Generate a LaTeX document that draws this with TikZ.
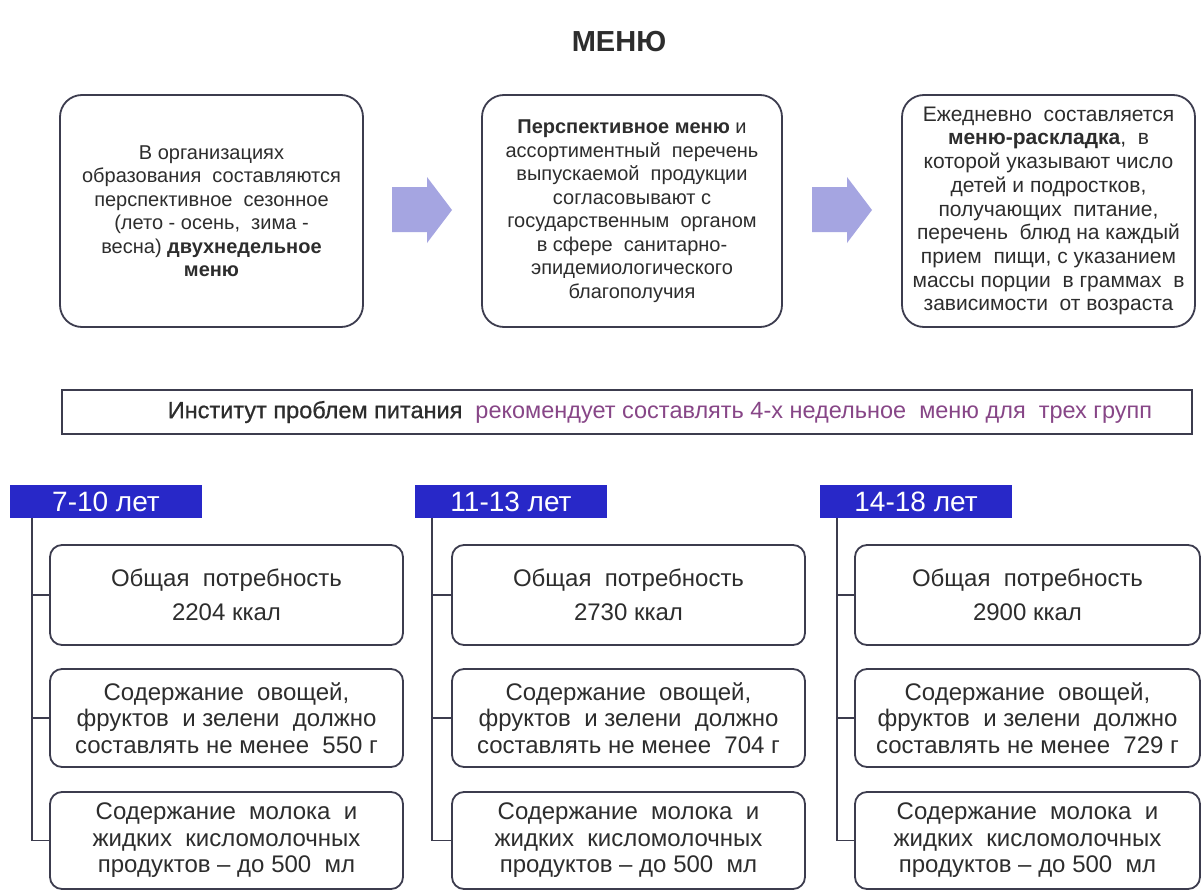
\documentclass[tikz,border=0pt]{standalone}
\usepackage{fontspec}
\setmainfont{Liberation Sans}
\definecolor{edge}{RGB}{60,60,78}
\definecolor{hdr}{RGB}{40,40,200}
\definecolor{arr}{RGB}{165,165,225}
\definecolor{txt}{RGB}{45,45,45}
\definecolor{purp}{RGB}{135,70,135}
\tikzset{
  topbox/.style={draw=edge, line width=1.8pt, rounded corners=22pt, fill=white, align=center, text=txt, inner sep=0pt,
    font=\fontsize{20}{23.5}\selectfont},
  hdrbox/.style={fill=hdr, text=white, minimum width=192pt, minimum height=33pt, inner sep=0pt,
    font=\fontsize{28}{30}\selectfont},
  kidbox/.style={draw=edge, line width=1.8pt, rounded corners=12pt, fill=white, align=center, text=txt, inner sep=0pt},
  conn/.style={draw=edge, line width=1.8pt},
  arrowfill/.style={fill=arr}
}
\begin{document}
\begin{tikzpicture}[x=1pt,y=-1pt]
\useasboundingbox[fill=white] (0,0) rectangle (1203,891);

\node[font=\fontsize{29}{32}\selectfont\bfseries, text=txt] (title) at (619,42) {МЕНЮ};

% top boxes
\node[topbox, minimum width=303pt, minimum height=232pt] (b1) at (211.5,211)
 {В организациях\\образования\ \ составляются\\перспективное\ \ сезонное\\(лето - осень,\ \ зима -\\весна) \textbf{двухнедельное}\\\textbf{меню}};
\node[topbox, minimum width=300pt, minimum height=232pt] (b2) at (632,211)
 {\textbf{Перспективное меню} и\\ассортиментный\ \ перечень\\выпускаемой\ \ продукции\\согласовывают с\\государственным\ \ органом\\в сфере\ \ санитарно-\\эпидемиологического\\благополучия};
\node[topbox, minimum width=293pt, minimum height=232pt, font=\fontsize{21}{23.7}\selectfont] (b3) at (1048.5,211)
 {Ежедневно\ \ составляется\\\textbf{меню-раскладка},\ \ в\\которой указывают число\\детей и подростков,\\получающих\ \ питание,\\перечень\ \ блюд на каждый\\прием\ \ пищи,\ с указанием\\массы порции\ \ в граммах\ \ в\\зависимости\ \ от возраста};

% block arrows
\fill[arrowfill] (392,187) -- (427,187) -- (427,177) -- (452,210) -- (427,243) -- (427,232) -- (392,232) -- cycle;
\fill[arrowfill] (812,187) -- (847,187) -- (847,177) -- (872,210) -- (847,243) -- (847,232) -- (812,232) -- cycle;

% banner
\node[draw=edge, line width=1.6pt, minimum width=1130pt, minimum height=44pt, inner sep=0pt] (banner) at (627,412) {};
\node[font=\fontsize{23.5}{26}\selectfont, inner sep=0pt] (bannertext) at (660,412)
 {\textcolor{txt}{\addfontfeature{FakeBold=0.6}Институт проблем питания}\ \ \textcolor{purp}{рекомендует составлять 4-х недельное\ \ меню для\ \ трех групп}};

% headers
\node[hdrbox] (h1) at (106,501.5) {7-10 лет};
\node[hdrbox] (h2) at (511,501.5) {11-13 лет};
\node[hdrbox] (h3) at (916,501.5) {14-18 лет};

% child boxes
\foreach \g/\L/\W/\a/\b in {1/50/353/2204/550, 2/452/353/2730/704, 3/855/345/2900/729}{
  \node[kidbox, minimum width=\W pt, minimum height=100pt, font=\fontsize{24}{34}\selectfont] (g\g r1) at ({\L+\W/2},595)
    {Общая\ \ потребность\\\a\ ккал};
  \node[kidbox, minimum width=\W pt, minimum height=98pt, font=\fontsize{24}{26.5}\selectfont] (g\g r2) at ({\L+\W/2},718)
    {Содержание\ \ овощей,\\фруктов\ \ и зелени\ \ должно\\составлять не менее\ \ \b\ г};
  \node[kidbox, minimum width=\W pt, minimum height=97pt, font=\fontsize{24}{26.5}\selectfont] (g\g r3) at ({\L+\W/2},840.5)
    {Содержание\ \ молока\ \ и\\жидких\ \ кисломолочных\\продуктов -- до 500\ \ мл};
}

% tree connectors
\coordinate (t1) at (32,518);
\coordinate (t2) at (432,518);
\coordinate (t3) at (837,518);
\foreach \g in {1,2,3}{
  \draw[conn] (t\g) |- (g\g r3.west);
  \draw[conn] (t\g |- g\g r1.west) -- (g\g r1.west);
  \draw[conn] (t\g |- g\g r2.west) -- (g\g r2.west);
}
\end{tikzpicture}
\end{document}
